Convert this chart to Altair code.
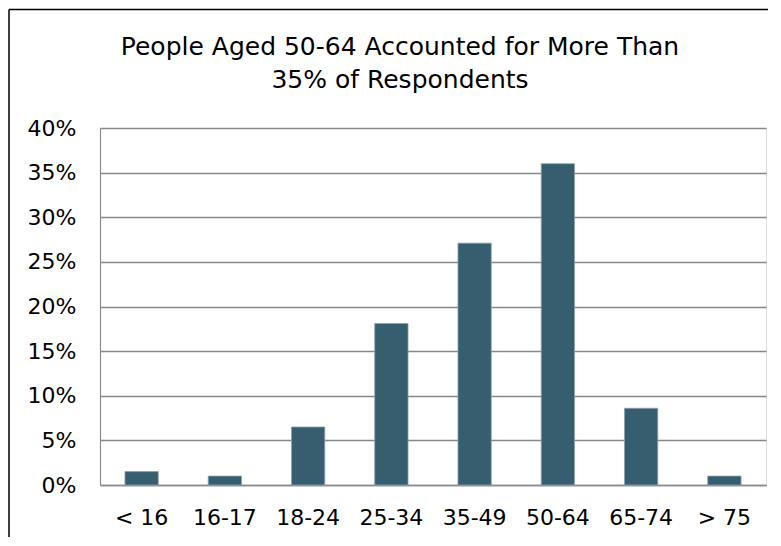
import altair as alt
import pandas as pd

categories = ["< 16", "16-17", "18-24", "25-34", "35-49", "50-64", "65-74", "> 75"]
shares = [0.015, 0.010, 0.065, 0.181, 0.271, 0.360, 0.086, 0.010]
title_lines = ["People Aged 50-64 Accounted for More Than", "35% of Respondents"]

df = pd.DataFrame({"age": categories, "share": shares})
FONT = "DejaVu Sans"

bars = alt.Chart(df).mark_bar(color="#375E6E", stroke="#8BA3AE", strokeWidth=0.8).encode(
    x=alt.X("age:N", sort=None, title=None,
            scale=alt.Scale(paddingInner=0.6, paddingOuter=0.3),
            axis=alt.Axis(labelAngle=0, ticks=False, labelPadding=22, labelFontSize=22,
                          labelFont=FONT, labelColor="#000000", domainColor="#8C8C8C",
                          domainWidth=1.5, labelBaseline="top")),
    y=alt.Y("share:Q", title=None,
            scale=alt.Scale(domain=[0, 0.4], nice=False),
            axis=alt.Axis(format=".0%", values=[0, 0.05, 0.1, 0.15, 0.2, 0.25, 0.3, 0.35, 0.4],
                          ticks=False, labelPadding=24, labelFontSize=22, labelFont=FONT,
                          labelColor="#000000", domainColor="#8C8C8C", domainWidth=1.2,
                          gridColor="#888888", gridWidth=1.3, labelBaseline="middle")),
)

frame_df = pd.DataFrame({"k": [0]})
left_border = alt.Chart(frame_df).mark_rule(color="#000000", strokeWidth=1.5).encode(
    x=alt.value(-91), y=alt.value(-118.5), y2=alt.value(409))
top_border = alt.Chart(frame_df).mark_rule(color="#000000", strokeWidth=1.5).encode(
    x=alt.value(-91), x2=alt.value(668), y=alt.value(-118.5))

chart = alt.layer(bars, left_border, top_border).properties(
    width=666, height=357, padding=0,
    title=alt.TitleParams(title_lines, fontSize=25, font=FONT, fontWeight="normal",
                          color="#000000", lineHeight=33, offset=-84, dx=-33, anchor="middle"),
).configure_view(stroke=None).configure(background="white")

chart.save("out.html", embed_options={"renderer": "svg", "actions": False})
